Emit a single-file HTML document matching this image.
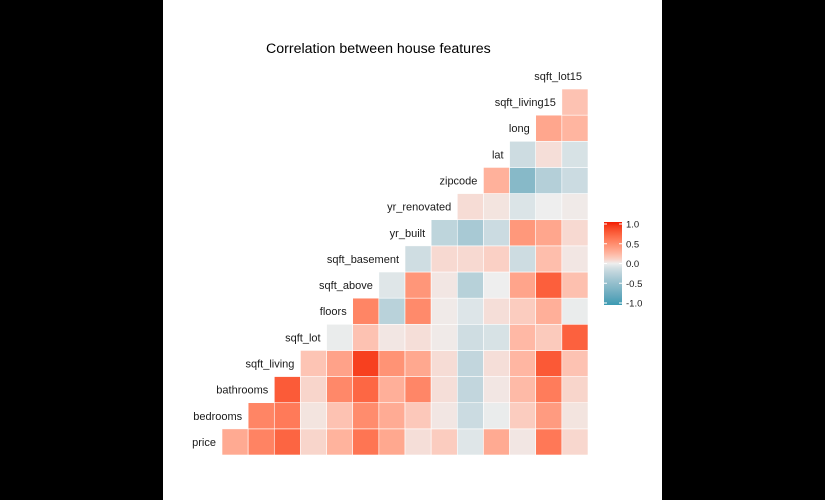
<!DOCTYPE html>
<html><head><meta charset="utf-8"><style>
body{margin:0;background:#000;}
svg{display:block;font-family:"Liberation Sans",Arial,sans-serif;}
</style></head><body>
<svg id="c" width="825" height="500">
<rect x="0" y="0" width="825" height="500" fill="#000"/>
<rect x="163" y="0" width="499" height="500" fill="#fff"/>
<text x="266" y="53" font-size="14.2" fill="#000">Correlation between house features</text>
<g id="cells"></g><g id="labels"></g><g id="legend"></g>
</svg>
<script>
const variables=["price","bedrooms","bathrooms","sqft_living","sqft_lot","floors","sqft_above","sqft_basement","yr_built","yr_renovated","zipcode","lat","long","sqft_living15","sqft_lot15"];
const corrPrice=[0.31,0.53,0.70,0.09,0.26,0.61,0.32,0.05,0.13,-0.05,0.31,0.02,0.59,0.08];
const corrBedrooms=[0.52,0.58,0.03,0.18,0.48,0.30,0.15,0.02,-0.15,-0.01,0.13,0.39,0.03];
const corrBathrooms=[0.75,0.09,0.50,0.69,0.28,0.51,0.05,-0.20,0.02,0.22,0.57,0.09];
const corrSqftLiving=[0.17,0.35,0.88,0.44,0.32,0.06,-0.20,0.05,0.24,0.76,0.18];
const corrSqftLot=[-0.01,0.18,0.02,0.05,0.01,-0.13,-0.09,0.23,0.14,0.72];
const corrFloors=[0.52,-0.25,0.49,0.01,-0.06,0.05,0.13,0.28,-0.01];
const corrSqftAbove=[-0.05,0.42,0.02,-0.26,0.00,0.34,0.73,0.19];
const corrSqftBasement=[-0.13,0.07,0.07,0.11,-0.14,0.20,0.02];
const corrYrBuilt=[-0.22,-0.35,-0.15,0.41,0.33,0.07];
const corrYrRenovated=[0.06,0.03,-0.07,0.00,0.01];
const corrZipcode=[0.27,-0.56,-0.28,-0.15];
const corrLat=[-0.14,0.05,-0.09];
const corrLong=[0.33,0.25];
const corrLiving15=[0.18];
const rows=[corrPrice,corrBedrooms,corrBathrooms,corrSqftLiving,corrSqftLot,corrFloors,corrSqftAbove,corrSqftBasement,corrYrBuilt,corrYrRenovated,corrZipcode,corrLat,corrLong,corrLiving15];
const legendTicks=["1.0","0.5","0.0","-0.5","-1.0"];
const legendVals=[1,0.5,0,-0.5,-1];

const NS="http://www.w3.org/2000/svg";
function mk(t,a,p){const e=document.createElementNS(NS,t);for(const k in a)e.setAttribute(k,a[k]);p.appendChild(e);return e;}
function toLin(c){c/=255;return c<=0.04045?c/12.92:Math.pow((c+0.055)/1.055,2.4);}
function fromLin(c){c=c<=0.0031308?12.92*c:1.055*Math.pow(c,1/2.4)-0.055;return Math.max(0,Math.min(255,Math.round(c*255)));}
function rgb2lab(h){const r=toLin(parseInt(h.substr(1,2),16)),g=toLin(parseInt(h.substr(3,2),16)),b=toLin(parseInt(h.substr(5,2),16));
let x=(r*0.4124+g*0.3576+b*0.1805)/0.95047,y=r*0.2126+g*0.7152+b*0.0722,z=(r*0.0193+g*0.1192+b*0.9505)/1.08883;
const f=t=>t>0.008856?Math.cbrt(t):7.787*t+16/116;x=f(x);y=f(y);z=f(z);return[116*y-16,500*(x-y),200*(y-z)];}
function lab2rgb(L){let y=(L[0]+16)/116,x=L[1]/500+y,z=y-L[2]/200;const fi=t=>t*t*t>0.008856?t*t*t:(t-16/116)/7.787;
x=fi(x)*0.95047;y=fi(y);z=fi(z)*1.08883;
const r=x*3.2406+y*-1.5372+z*-0.4986,g=x*-0.9689+y*1.8758+z*0.0415,b=x*0.0557+y*-0.2040+z*1.0570;
return "rgb("+fromLin(r)+","+fromLin(g)+","+fromLin(b)+")";}
const LO=rgb2lab("#3B9AB2"),MID=rgb2lab("#EEEEEE"),HI=rgb2lab("#F21A00");
function color(v){const e=v>=0?HI:LO,t=Math.pow(Math.min(1,Math.abs(v)),0.8);return lab2rgb([0,1,2].map(i=>MID[i]+(e[i]-MID[i])*t));}

const x0=222,yB=455,cw=(588-222)/14;
function xPos(k){return x0+(k-1)*cw;}
function yPos(r){return yB-(r+1)*cw;}
const gc=document.getElementById("cells"),gl=document.getElementById("labels");
rows.forEach((vals,r)=>{vals.forEach((v,i)=>{const k=r+1+i;
const el=mk("rect",{x:xPos(k),y:yPos(r),width:cw,height:cw,fill:color(v),stroke:"#fff","stroke-width":0.6},gc);

});});
variables.forEach((n,r)=>{const t=mk("text",{x:xPos(r+1)-6,y:yPos(r)+cw/2+4,"font-size":11,"text-anchor":"end",fill:"#1a1a1a"},gl);
t.textContent=n;

});
const lg=document.getElementById("legend");
const defs=mk("defs",{},lg);const grad=mk("linearGradient",{id:"lgr",x1:0,y1:0,x2:0,y2:1},defs);
for(let i=0;i<=20;i++){const v=1-i/10;mk("stop",{offset:(i/20),"stop-color":color(v)},grad);}
const ly0=222,ly1=305;
const bar=mk("rect",{x:604,y:ly0,width:18,height:ly1-ly0,fill:"url(#lgr)"},lg);


legendVals.forEach((v,i)=>{const y=ly0+2+(1-v)/2*(ly1-ly0-4);
mk("line",{x1:604,x2:607,y1:y,y2:y,stroke:"#fff"},lg);mk("line",{x1:619,x2:622,y1:y,y2:y,stroke:"#fff"},lg);
const t=mk("text",{x:626,y:y+3.5,"font-size":9.5,fill:"#1a1a1a"},lg);t.textContent=legendTicks[i];

});
</script>
</body></html>
